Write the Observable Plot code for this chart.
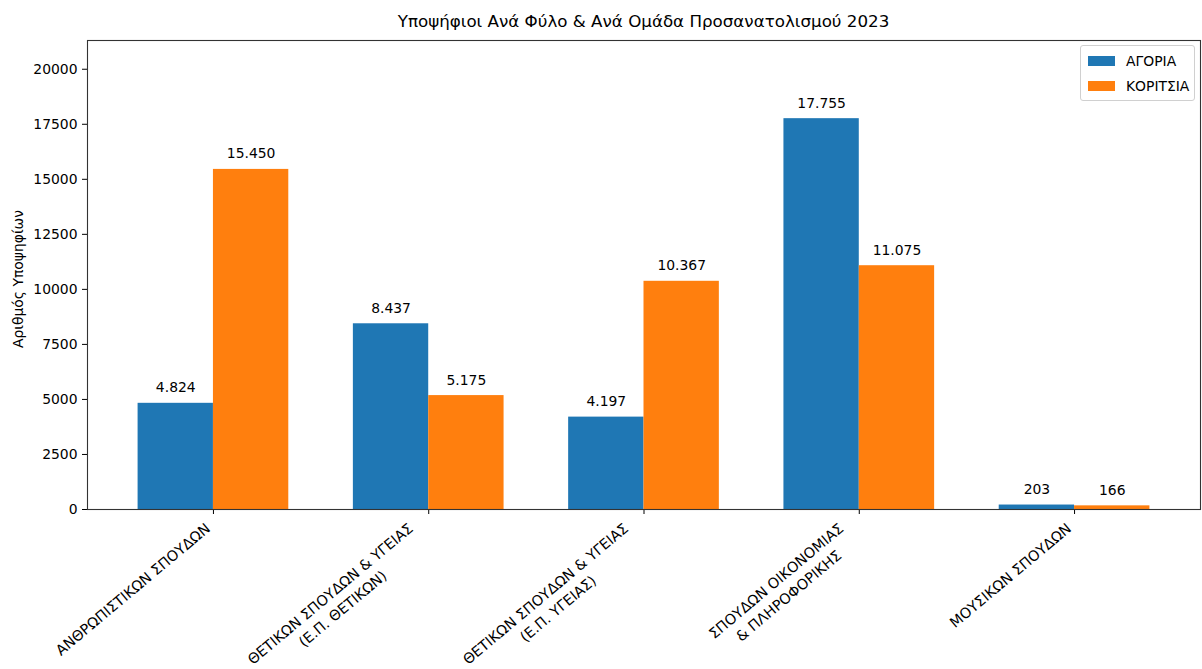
<!DOCTYPE html>
<html>
<head>
<meta charset="utf-8">
<script src="https://cdn.jsdelivr.net/npm/d3@7"></script>
<script src="https://cdn.jsdelivr.net/npm/@observablehq/plot@0.6"></script>
<style>
  html, body { margin: 0; padding: 0; background: white; }
  #wrap { position: relative; width: 1202px; height: 669px; font-family: "DejaVu Sans", sans-serif; }
  #title { box-sizing: border-box; width: 1202px; height: 36px; padding-left: 87px; padding-right: 2px;
           text-align: center; font-size: 16.7px; line-height: 42px; color: #000; white-space: nowrap; }
  #legend { position: absolute; left: 1080px; top: 45px; width: 115px; height: 56px; box-sizing: border-box;
            border: 1px solid #d0d0d0; border-radius: 3px; background: rgba(255,255,255,0.8);
            font-size: 13.9px; color: #000; }
  .item { position: absolute; left: 7px; height: 14px; display: flex; align-items: center; }
  .sw { width: 27px; height: 10px; margin-right: 11px; }
</style>
</head>
<body>
<div id="wrap">
  <div id="title"></div>
  <div id="chart"></div>
  <div id="legend"></div>
</div>
<script>
const title = "Υποψήφιοι Ανά Φύλο & Ανά Ομάδα Προσανατολισμού 2023";
const yLabel = "Αριθμός Υποψηφίων";
const categories = [
  "ΑΝΘΡΩΠΙΣΤΙΚΩΝ ΣΠΟΥΔΩΝ",
  "ΘΕΤΙΚΩΝ ΣΠΟΥΔΩΝ & ΥΓΕΙΑΣ\n(Ε.Π. ΘΕΤΙΚΩΝ)",
  "ΘΕΤΙΚΩΝ ΣΠΟΥΔΩΝ & ΥΓΕΙΑΣ\n(Ε.Π. ΥΓΕΙΑΣ)",
  "ΣΠΟΥΔΩΝ ΟΙΚΟΝΟΜΙΑΣ\n& ΠΛΗΡΟΦΟΡΙΚΗΣ",
  "ΜΟΥΣΙΚΩΝ ΣΠΟΥΔΩΝ"
];
const series = ["ΑΓΟΡΙΑ", "ΚΟΡΙΤΣΙΑ"];
const boys = [4824, 8437, 4197, 17755, 203];
const girls = [15450, 5175, 10367, 11075, 166];
const colors = ["#1f77b4", "#ff7f0e"];
const yTicks = [0, 2500, 5000, 7500, 10000, 12500, 15000, 17500, 20000];

document.getElementById("title").textContent = title;

const barW = 0.35;
const rows = [];
categories.forEach((c, i) => {
  rows.push({i, s: 0, value: boys[i]});
  rows.push({i, s: 1, value: girls[i]});
});
const greek = d3.formatLocale({decimal: ",", thousands: ".", grouping: [3], currency: ["", "€"]});
const fmt = greek.format(",d");

const FS = 13.9;
const LFS = 14.4;
const LH = 1.35;
const ctx = document.createElement("canvas").getContext("2d");
ctx.font = `${LFS}px "DejaVu Sans"`;
const ang = 40 * Math.PI / 180;
const pad = 10;
const labelMarks = categories.map((c, i) => {
  const lines = c.split("\n");
  const W = d3.max(lines, l => ctx.measureText(l).width);
  const H = ((lines.length - 1) * LH + 1.2) * LFS;
  const dx = -Math.sin(ang) * H - Math.cos(ang) * W / 2;
  const dy = pad + Math.sin(ang) * W / 2;
  return Plot.text([{i, label: c}], {
    x: "i", text: "label", frameAnchor: "bottom", rotate: -40,
    textAnchor: "middle", lineAnchor: "top", lineHeight: LH,
    dx, dy, fontSize: LFS, fill: "#000"
  });
});

const yMax = d3.max([...boys, ...girls]) * 1.2;
const xPad = 0.235;

const chart = Plot.plot({
  width: 1202,
  height: 633,
  marginTop: 4,
  marginBottom: 160,
  marginLeft: 87,
  marginRight: 2,
  style: {fontFamily: "DejaVu Sans", fontSize: FS + "px", color: "#000", background: "white"},
  x: {domain: [-barW - xPad, 4 + barW + xPad], ticks: [0, 1, 2, 3, 4], tickFormat: () => "", tickSize: 5, label: null},
  y: {domain: [0, yMax], ticks: yTicks, tickFormat: d3.format("d"), tickSize: 5, tickPadding: 5, label: null},
  marks: [
    Plot.rectY(rows, {
      x1: d => d.i + (d.s === 0 ? -barW : 0),
      x2: d => d.i + (d.s === 0 ? 0 : barW),
      y: "value",
      fill: d => colors[d.s]
    }),
    Plot.text(rows, {
      x: d => d.i + (d.s === 0 ? -barW / 2 : barW / 2),
      y: "value",
      text: d => fmt(d.value),
      lineAnchor: "bottom", dy: -11, fontSize: FS, fill: "#000"
    }),
    Plot.text([yLabel], {text: d => d, frameAnchor: "left", rotate: -90, dx: -69, dy: 4, textAnchor: "middle", lineAnchor: "middle", fontSize: FS, fill: "#000"}),
    ...labelMarks,
    Plot.frame({stroke: "#333", strokeWidth: 1.1})
  ]
});
document.getElementById("chart").appendChild(chart);

const legend = document.getElementById("legend");
series.forEach((s, k) => {
  const it = document.createElement("div");
  it.className = "item";
  it.style.top = (8 + k * 25) + "px";
  const sw = document.createElement("div");
  sw.className = "sw";
  sw.style.background = colors[k];
  const tx = document.createElement("span");
  tx.textContent = s;
  it.appendChild(sw);
  it.appendChild(tx);
  legend.appendChild(it);
});
</script>
</body>
</html>
